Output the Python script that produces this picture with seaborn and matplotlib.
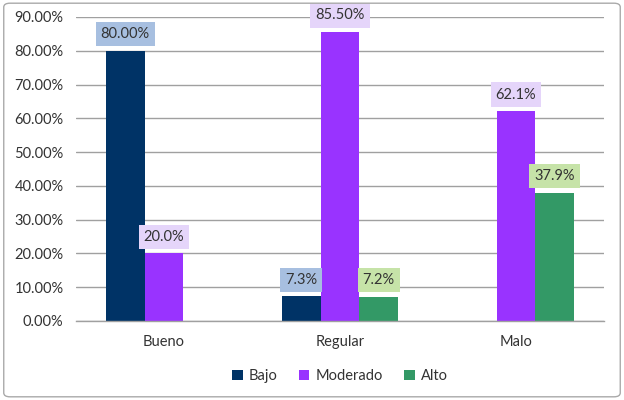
import seaborn as sns, pandas as pd, numpy as np
import matplotlib
matplotlib.use("Agg")
import matplotlib.pyplot as plt
from matplotlib.patches import FancyBboxPatch
from matplotlib.ticker import FuncFormatter, FixedLocator

categories = ["Bueno", "Regular", "Malo"]
series = ["Bajo", "Moderado", "Alto"]
bajo = [80.0, 7.3, np.nan]
moderado = [20.0, 85.5, 62.1]
alto = [np.nan, 7.2, 37.9]
label_text = {
    "Bajo": ["80.00%", "7.3%", ""],
    "Moderado": ["20.0%", "85.50%", "62.1%"],
    "Alto": ["", "7.2%", "37.9%"],
}

colors = {"Bajo": "#003366", "Moderado": "#9933FF", "Alto": "#339966"}
box_colors = {"Bajo": "#A7BFE0", "Moderado": "#E5D5FA", "Alto": "#C6E3A8"}

df = pd.DataFrame({
    "cat": categories * 3,
    "serie": [s for s in series for _ in categories],
    "val": bajo + moderado + alto,
})

sns.set_style("white")
plt.rcParams["font.family"] = ["Lato", "DejaVu Sans"]

fig = plt.figure(figsize=(6.24, 4.0), dpi=100)
ax = fig.add_axes([0.1218, 0.1975, 0.846, 0.76])

sns.barplot(data=df, x="cat", y="val", hue="serie", hue_order=series,
            palette=colors, width=0.66, saturation=1, ax=ax,
            linewidth=0, errorbar=None, legend=True)

ax.set_ylim(0, 90)
ax.set_xlim(-0.5, 2.5)
ax.yaxis.set_major_locator(FixedLocator(np.arange(0, 91, 10)))
ax.yaxis.set_major_formatter(FuncFormatter(lambda v, p: f"{v:.2f}%"))
ax.grid(axis="y", color="#a0a0a0", linewidth=1)
ax.set_axisbelow(True)
ax.set_xlabel("")
ax.set_ylabel("")
for s in ["top", "right", "left"]:
    ax.spines[s].set_visible(False)
ax.spines["bottom"].set_color("#a0a0a0")
ax.spines["bottom"].set_linewidth(1)

ax.tick_params(axis="y", labelsize=10.5, colors="#a0a0a0", labelcolor="#333333",
               length=3, width=1, pad=6)
ax.tick_params(axis="x", which="major", length=0, labelsize=10.5,
               labelcolor="#333333", pad=10)
ax.xaxis.set_minor_locator(FixedLocator([-0.5, 0.5, 1.5, 2.5]))
ax.tick_params(axis="x", which="minor", length=5, width=1, color="#a0a0a0")

for cont, name in zip(ax.containers, series):
    for bar in cont:
        h = bar.get_height()
        if np.isnan(h):
            continue
        xc = bar.get_x() + bar.get_width() / 2
        idx = int(round(xc))
        txt = label_text[name][idx]
        if not txt:
            continue
        ax.annotate(txt, (xc, h), xytext=(0, 7), textcoords="offset points",
                    ha="center", va="bottom", fontsize=10.5, color="#333333",
                    bbox=dict(boxstyle="square,pad=0.35", fc=box_colors[name],
                              ec="none"))

leg = ax.legend(loc="upper center", bbox_to_anchor=(0.5, -0.115), ncol=3,
                frameon=False, fontsize=10.5, handlelength=0.7, handleheight=0.7,
                handletextpad=0.4, columnspacing=1.5)
for t in leg.get_texts():
    t.set_color("#333333")

fig.patches.append(FancyBboxPatch((0.006, 0.008), 0.988, 0.984,
                                  boxstyle="round,pad=0,rounding_size=0.01",
                                  transform=fig.transFigure, fc="none",
                                  ec="#aaaaaa", lw=1))

fig.savefig("out.png", dpi=100)
